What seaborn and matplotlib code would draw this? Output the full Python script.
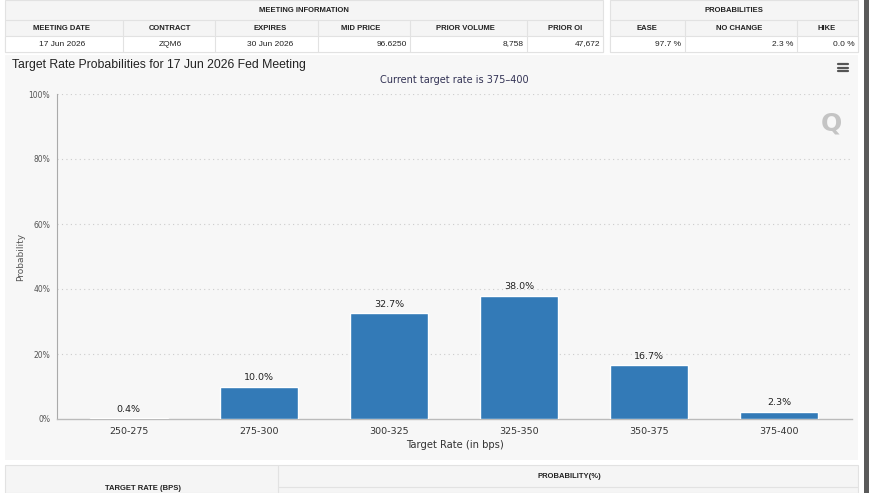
import matplotlib
matplotlib.use("Agg")
import matplotlib.pyplot as plt
import matplotlib.patches as mpatches
import seaborn as sns
import pandas as pd

# ---- data ----
categories = ["250-275", "275-300", "300-325", "325-350", "350-375", "375-400"]
probabilities = [0.4, 10.0, 32.7, 38.0, 16.7, 2.3]
y_ticks = [0, 20, 40, 60, 80, 100]
y_tick_labels = ["0%", "20%", "40%", "60%", "80%", "100%"]

info_headers = ["MEETING DATE", "CONTRACT", "EXPIRES", "MID PRICE", "PRIOR VOLUME", "PRIOR OI"]
info_values = ["17 Jun 2026", "ZQM6", "30 Jun 2026", "96.6250", "8,758", "47,672"]
prob_headers = ["EASE", "NO CHANGE", "HIKE"]
prob_values = ["97.7 %", "2.3 %", "0.0 %"]

sns.set_theme(style="white")
plt.rcParams["font.family"] = ["DejaVu Sans"]
TABLE_FONT = ["Liberation Sans Narrow", "Liberation Sans", "DejaVu Sans"]

W, H = 870, 493
fig = plt.figure(figsize=(W / 100, H / 100), dpi=100)
fig.patch.set_facecolor("white")

def fx(x):
    return x / W

def fy(y):
    return 1 - y / H

def rect(x0, y0, x1, y1, fc, ec="none", lw=0.8, z=0):
    fig.patches.append(mpatches.Rectangle((fx(x0), fy(y1)), fx(x1) - fx(x0), fy(y0) - fy(y1),
                                          transform=fig.transFigure, facecolor=fc, edgecolor=ec,
                                          linewidth=lw, zorder=z))

def hline(x0, x1, y, c="#e2e2e2", lw=0.8):
    fig.add_artist(plt.Line2D([fx(x0), fx(x1)], [fy(y), fy(y)], transform=fig.transFigure, color=c, lw=lw))

def vline(x, y0, y1, c="#e2e2e2", lw=0.8):
    fig.add_artist(plt.Line2D([fx(x), fx(x)], [fy(y0), fy(y1)], transform=fig.transFigure, color=c, lw=lw))

def txt(x, y, s, size=5.5, ha="center", weight="normal", color="#222222", family=None, **kw):
    fig.text(fx(x), fy(y), s, ha=ha, va="center", fontsize=size, fontweight=weight, color=color,
             family=family if family else TABLE_FONT, **kw)

# ---- top tables ----
rect(5, 0, 603, 52, "#f5f5f5", ec="#e2e2e2")
rect(5, 36, 603, 52, "white", ec="#e2e2e2")
rect(610, 0, 858, 52, "#f5f5f5", ec="#e2e2e2")
rect(610, 36, 858, 52, "white", ec="#e2e2e2")
hline(5, 603, 20)
hline(610, 858, 20)
txt(304, 10, "MEETING INFORMATION", weight="bold")
txt(734, 10, "PROBABILITIES", weight="bold")
info_cols = [62, 170, 270, 361, 465, 565]
info_seps = [123, 215, 318, 410, 527]
for s in info_seps:
    vline(s, 20, 52)
for i, h in enumerate(info_headers):
    txt(info_cols[i], 28, h, weight="bold")
right_edges = [None, None, None, 407, 524, 600]
for i, v in enumerate(info_values):
    if right_edges[i] is None:
        txt(info_cols[i], 44, v, size=6)
    else:
        txt(right_edges[i], 44, v, size=6, ha="right")
prob_cols = [647, 739, 827]
for s in [685, 797]:
    vline(s, 20, 52)
prob_right = [681, 793, 855]
for i in range(3):
    txt(prob_cols[i], 28, prob_headers[i], weight="bold")
    txt(prob_right[i], 44, prob_values[i], size=6, ha="right")

# ---- chart panel ----
rect(5, 55, 858, 460, "#f7f7f7")
txt(12, 65, "Target Rate Probabilities for 17 Jun 2026 Fed Meeting", size=8.8, ha="left",
    color="#222222", family=["Liberation Sans", "DejaVu Sans"])
txt(454, 80, "Current target rate is 375\u2013400", size=7, color="#333355", family=["DejaVu Sans"])
# menu icon
for yy in [64, 67.5, 71]:
    hline(838, 848, yy, c="#555555", lw=1.6)
# Q watermark
txt(831, 124, "Q", size=18, weight="bold", color="#c4c4c4", family=["DejaVu Sans"])

# right dark bar
rect(864, 0, 870, 493, "#5a5a5a")

# ---- bottom table ----
rect(5, 465, 858, 493, "#f5f5f5", ec="#e2e2e2")
vline(278, 465, 493)
hline(278, 858, 487)
txt(143, 488, "TARGET RATE (BPS)", weight="bold")
txt(569, 477, "PROBABILITY(%)", weight="bold")

# ---- bar chart ----
ax = fig.add_axes([fx(57), fy(419), fx(852) - fx(57), fy(94) - fy(419)])
ax.set_zorder(10)
ax.set_facecolor("none")
df = pd.DataFrame({"rate": categories, "prob": probabilities})
sns.barplot(data=df, x="rate", y="prob", color="#337ab7", saturation=1, width=0.6, ax=ax, zorder=3)
ax.set_ylim(0, 100)
ax.set_xlim(-0.55, len(categories) - 0.44)
ax.set_yticks(y_ticks)
ax.set_yticklabels(y_tick_labels, fontsize=5.5, color="#555555")
ax.tick_params(axis="y", length=0, pad=5)
ax.tick_params(axis="x", length=0, pad=6, labelsize=6.8, colors="#333333")
for t in y_ticks[1:]:
    ax.axhline(t, color="#cccccc", lw=0.8, ls=(0, (1, 3)), zorder=1)
for s in ["top", "right"]:
    ax.spines[s].set_visible(False)
ax.spines["left"].set_color("#aaaaaa")
ax.spines["left"].set_linewidth(0.8)
ax.spines["bottom"].set_color("#bbbbbb")
ax.spines["bottom"].set_linewidth(1.0)
ax.set_xlabel("Target Rate (in bps)", fontsize=7.2, color="#333333", labelpad=3)
ax.set_ylabel("Probability", fontsize=6.5, color="#555555")
ax.yaxis.set_label_coords(-0.04, 0.5)
for i, p in enumerate(probabilities):
    ax.annotate(f"{p:.1f}%", (i, p), xytext=(0, 3), textcoords="offset points",
                ha="center", va="bottom", fontsize=6.8, color="#222222")

fig.savefig("out.png", dpi=100, facecolor=fig.get_facecolor())
